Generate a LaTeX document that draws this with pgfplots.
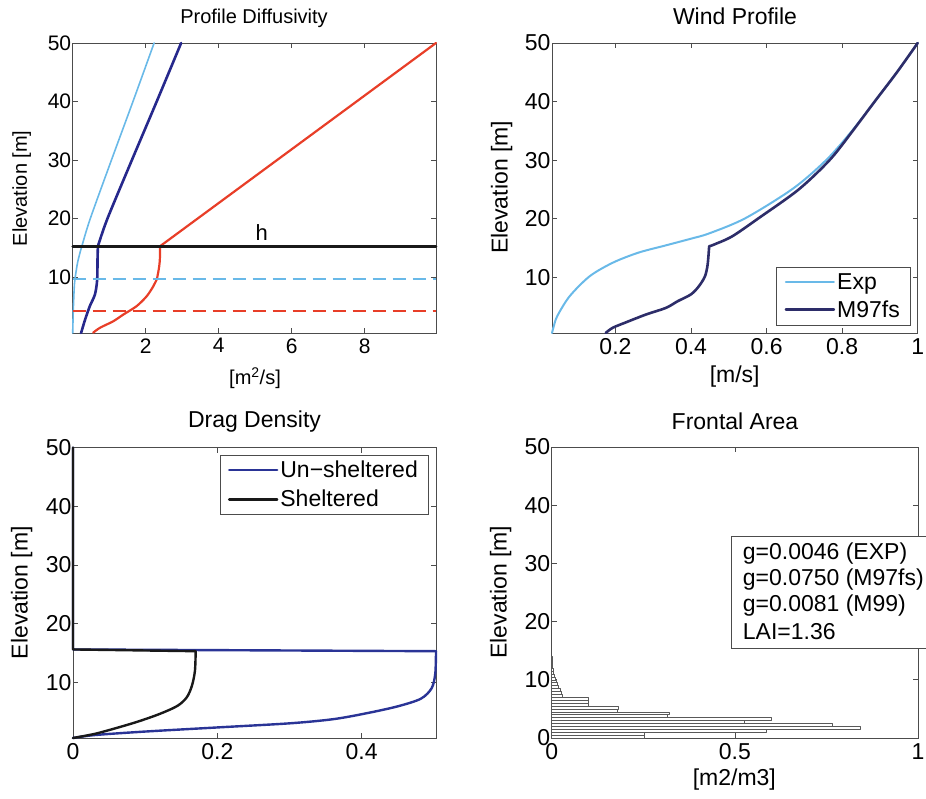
\documentclass[border=0pt]{standalone}
\usepackage{pgfplots}
\pgfplotsset{compat=1.18}
\usepackage{fontspec}
\setmainfont{Liberation Sans}
\definecolor{lblue}{RGB}{105,185,232}
\definecolor{dblue}{RGB}{38,40,140}
\definecolor{nred}{RGB}{232,62,40}
\definecolor{navy}{RGB}{45,45,105}
\definecolor{ublue}{RGB}{42,52,150}
\newcommand{\fs}[1]{\fontsize{#1}{#1}\selectfont}
\pgfplotsset{
  mlab/.style={
    scale only axis,
    anchor=south west,
    axis line style={black!70, line width=0.8pt},
    every tick/.style={black!70, line width=0.7pt},
    tick align=inside,
    tick pos=both,
    major tick length=5pt,
    minor tick num=0,
    clip=false,
    /pgf/number format/assume math mode=true,
    tick label style={font=\fs{23}},
    xticklabel style={yshift=-2pt},
    yticklabel style={xshift=2pt},
    every axis plot/.append style={line cap=round, line join=round},
    legend image code/.code={\draw[##1] (0pt,0pt) -- (48pt,0pt);},
  }
}
\begin{document}
\begin{tikzpicture}
\path[use as bounding box] (0pt,0pt) rectangle (926pt,798pt);

% ---------------- Profile Diffusivity ----------------
\begin{axis}[mlab, at={(72.7pt,465pt)}, width=363.3pt, height=290pt,
  xmin=0, xmax=9.95, ymin=0.5, ymax=50,
  xtick={2,4,6,8}, ytick={10,20,30,40,50},
  tick label style={font=\fs{21}}]
\addplot[lblue, line width=1.6pt, smooth] coordinates {
 (0.0,0.5) (0.01,3) (0.02,5.1) (0.04,8) (0.06,9.6) (0.13,12.4) (0.2,14.2) (0.25,15.3)
 (0.48,20) (1.06,30) (1.65,40) (2.23,50)};
\addplot[dblue, line width=2.6pt, smooth] coordinates {
 (0.23,0.5) (0.34,2.8) (0.47,5.1) (0.61,7.1) (0.67,9.6) (0.68,13.1) (0.69,15.3)};
\addplot[dblue, line width=2.6pt, smooth] coordinates {
 (0.69,15.3) (0.95,20) (1.62,30) (2.3,40) (2.97,50)};
\addplot[nred, line width=2.2pt, smooth] coordinates {
 (0.56,0.55) (0.75,1.4) (1.11,2.5) (1.39,3.66) (1.75,5.08) (2.03,6.8) (2.21,8.5)
 (2.30,9.6) (2.37,11.9) (2.39,13.5) (2.39,15.3)};
\addplot[nred, line width=2.2pt] coordinates {(2.39,15.3) (9.95,50)};
\addplot[black!90, line width=2.6pt] coordinates {(0,15.3) (9.95,15.3)};
\addplot[lblue, line width=2.2pt, dash pattern=on 13pt off 7pt, line cap=butt] coordinates {(0,9.75) (9.95,9.75)};
\addplot[nred, line width=2.2pt, dash pattern=on 13pt off 7pt, line cap=butt] coordinates {(0,4.3) (9.95,4.3)};
\node[font=\fs{22}] at (axis cs:5.18,17.6) {h};
\end{axis}
\node[font=\fs{20}] at (254pt,780pt) {Profile Diffusivity};
\node[font=\fs{20}, rotate=90] at (21.7pt,609.7pt) {Elevation [m]};
\node[font=\fs{20}] at (255pt,420pt) {[m\textsuperscript{2}/s]};

% ---------------- Wind Profile ----------------
\begin{axis}[mlab, at={(552pt,465pt)}, width=365.7pt, height=290pt,
  xmin=0.032, xmax=1, ymin=0.5, ymax=50,
  xtick={0.2,0.4,0.6,0.8,1}, xticklabels={0.2,0.4,0.6,0.8,1},
  ytick={10,20,30,40,50},
  legend style={at={(0.979,0.0276)}, anchor=south east, draw=black!70,
    font=\fs{23}, inner xsep=8pt, inner ysep=4pt, row sep=6pt,
    cells={anchor=west}}]
\addplot[lblue, line width=2pt, smooth] coordinates {
 (0.032,0.5) (0.036,1.5) (0.046,3.4) (0.079,6.8) (0.132,10.2) (0.193,12.5) (0.26,14.2)
 (0.33,15.4) (0.40,16.6) (0.448,17.5) (0.544,20.1) (0.671,25.2) (0.759,30.1)
 (0.826,35) (0.886,40) (0.945,45) (1.0,50)};
\addlegendentry{Exp}
\addplot[navy, line width=2.6pt, smooth] coordinates {
 (0.174,0.5) (0.193,1.4) (0.229,2.35) (0.281,3.66) (0.334,4.8) (0.364,5.9) (0.40,7.1)
 (0.421,8.5) (0.437,10.2) (0.444,12.2) (0.448,15.3)};
\addlegendentry{M97fs}
\addplot[navy, line width=2.6pt, smooth, forget plot] coordinates {
 (0.448,15.3) (0.461,15.6) (0.509,17.0)
 (0.579,20.1) (0.685,25.0) (0.768,30.1) (0.828,35) (0.886,40) (0.945,45) (1.0,50)};
\end{axis}
\node[font=\fs{23}] at (735pt,782pt) {Wind Profile};
\node[font=\fs{23}, rotate=90] at (501.7pt,610.7pt) {Elevation [m]};
\node[font=\fs{23}] at (734.7pt,421.3pt) {[m/s]};

% ---------------- Drag Density ----------------
\begin{axis}[mlab, at={(73pt,60pt)}, width=363pt, height=290.3pt,
  xmin=0, xmax=0.503, ymin=0.5, ymax=50,
  xtick={0,0.2,0.4}, xticklabels={0,0.2,0.4},
  ytick={10,20,30,40,50},
  legend style={at={(0.978,0.975)}, anchor=north east, draw=black!70,
    font=\fs{23}, inner xsep=8pt, inner ysep=4pt, row sep=7pt,
    cells={anchor=west}}]
\addplot[ublue, line width=2.4pt, smooth] coordinates {
 (0,0.5) (0.03,1.0) (0.1,1.6) (0.2,2.3) (0.3,3.0) (0.36,3.7) (0.406,4.7) (0.45,5.9)
 (0.482,7.2) (0.497,9.0) (0.502,11.5) (0.503,15.3)};
\addlegendentry{Un\char"2212 sheltered}
\addplot[ublue, line width=2.4pt, forget plot] coordinates {
 (0.503,15.3) (0,15.6) (0,50)};
\addplot[black!90, line width=2.4pt, smooth] coordinates {
 (0,0.5) (0.03,1.2) (0.06,2.2) (0.09,3.3) (0.12,4.6) (0.145,6.0) (0.158,7.5)
 (0.165,9.5) (0.169,12) (0.170,15.3)};
\addlegendentry{Sheltered}
\addplot[black!90, line width=2.4pt, forget plot] coordinates {
 (0.170,15.3) (0,15.6) (0,50)};
\end{axis}
\node[font=\fs{23}] at (254.5pt,376.3pt) {Drag Density};
\node[font=\fs{23}, rotate=90] at (21.7pt,205.3pt) {Elevation [m]};

% ---------------- Frontal Area ----------------
\begin{axis}[mlab, at={(551.7pt,60pt)}, width=366.3pt, height=291pt,
  xmin=0, xmax=1, ymin=0, ymax=50,
  xtick={0,0.5,1}, xticklabels={0,0.5,1},
  ytick={0,10,20,30,40,50}]
\addplot[xbar, bar width=0.5, fill=white, draw=black!65, line width=0.6pt] coordinates {
 (0.254,0.25) (0.254,0.75) (0.585,1.25) (0.842,1.75) (0.767,2.25) (0.527,2.75)
 (0.599,3.25) (0.316,3.75) (0.322,4.25) (0.18,4.75) (0.183,5.25) (0.1,5.75)
 (0.1,6.25) (0.1,6.75) (0.03,7.25) (0.027,7.75) (0.024,8.25) (0.018,8.75)
 (0.015,9.25) (0.012,9.75) (0.010,10.25) (0.007,10.75) (0.005,11.25) (0.003,11.75)
 (0.002,12.25) (0.001,12.75) (0.0005,13.25) (0.0003,13.75)};
\end{axis}
\node[font=\fs{23}] at (735pt,376.3pt) {Frontal Area};
\node[font=\fs{23}, rotate=90] at (500.7pt,205.8pt) {Elevation [m]};
\node[font=\fs{23}] at (734.3pt,18pt) {[m2/m3]};
\draw[black!70, line width=0.8pt, fill=white] (731.7pt,149.7pt) rectangle (945pt,262pt);
\node[font=\fs{23}, anchor=west, inner sep=0pt] at (742.7pt,244pt) {g=0.0046 (EXP)};
\node[font=\fs{23}, anchor=west, inner sep=0pt] at (742.7pt,218pt) {g=0.0750 (M97fs)};
\node[font=\fs{23}, anchor=west, inner sep=0pt] at (742.7pt,192pt) {g=0.0081 (M99)};
\node[font=\fs{23}, anchor=west, inner sep=0pt] at (742.7pt,166.3pt) {LAI=1.36};
\end{tikzpicture}
\end{document}
